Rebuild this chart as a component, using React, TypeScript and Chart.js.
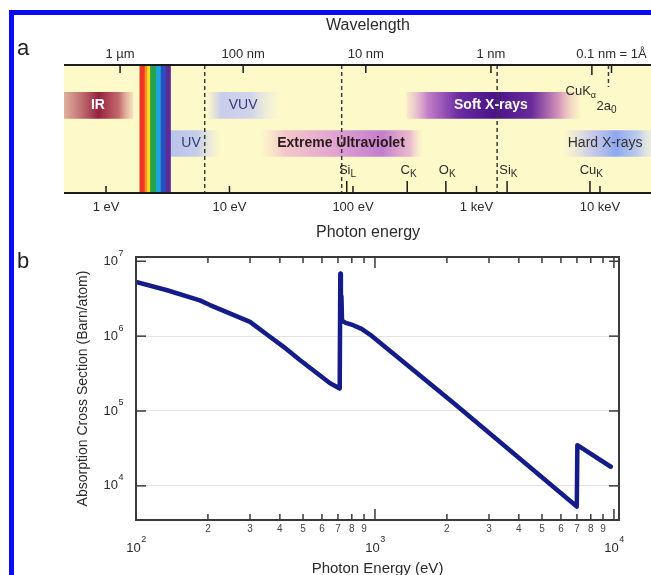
import React, { useEffect, useRef } from 'react';
import { Chart, registerables } from 'chart.js';

Chart.register(...registerables);

const FONT = '"Liberation Sans", Arial, Helvetica, sans-serif';
Chart.defaults.font.family = FONT;

// ================= Panel a : spectrum overview (positions in photon energy, eV) =================
const energyTickValues = [1, 10, 100, 1000, 10000];
const energyTickLabels = ['1 eV', '10 eV', '100 eV', '1 keV', '10 keV'];
const wavelengthTickEnergies = [1.3, 12.9, 127, 1310, 12400];
const wavelengthTickLabels = ['1 µm', '100 nm', '10 nm', '1 nm', '0.1 nm = 1Å'];

const bandNames = ['IR', 'VUV', 'Soft X-rays', 'UV', 'Extreme Ultraviolet', 'Hard X-rays'];
const bandStartEV = [0.457, 6.57, 274, 3.3, 17.7, 5010];
const bandEndEV = [1.65, 25.6, 6890, 8.38, 369, 25900];
const bandRow = [0.316, 0.316, 0.316, 0.613, 0.613, 0.613];
const bandLabelEV = [0.86, 12.9, 1310, 4.88, 80, 11000];

const spectrumEdgesEV = [1.88, 2.07, 2.17, 2.29, 2.56, 2.79, 3.06, 3.33];
const regionBoundaryEV = [6.3, 81, 1470];
const edgeMain = ['Si', 'C', 'O', 'Si', 'Cu'];
const edgeSub = ['L', 'K', 'K', 'K', 'K'];
const edgeEV = [89, 275, 565, 1770, 8300];
const cuKalphaEV = 8600;
const twoA0EV = 11720;

// ================= Panel b : absorption cross section =================
const photonEnergyEV = [100, 135, 185, 204, 300, 353, 412, 485, 649, 712, 716, 720, 724, 728, 750, 811, 879, 953, 2120, 6990, 7030, 9700];
const crossSectionBarn = [5.3e6, 4.1e6, 3.0e6, 2.6e6, 1.55e6, 1.05e6, 7.3e5, 4.8e5, 2.35e5, 2.0e5, 6.8e6, 2.6e6, 3.4e6, 1.6e6, 1.52e6, 1.4e6, 1.25e6, 1.05e6, 1.3e5, 5.3e3, 3.5e4, 1.8e4];
const xTickValues = [100, 200, 300, 400, 500, 600, 700, 800, 900, 1000, 2000, 3000, 4000, 5000, 6000, 7000, 8000, 9000, 10000];
const yTickValues = [1e4, 1e5, 1e6, 1e7];
const xRange = [100, 10500];
const yRange = [3500, 1.14e7];

// ---------- styles ----------
const spectrumColors = ['#ee3524', '#f7901e', '#f6dd1c', '#2aa24a', '#1aa7e0', '#2c4fbf', '#5b2b96'];
const bandGradients: [number, string][][] = [
  [[0, 'rgba(214,150,140,0.75)'], [0.5, 'rgba(150,32,62,1)'], [0.8, 'rgba(190,90,100,0.9)'], [1, 'rgba(230,175,160,0.35)']],
  [[0, 'rgba(196,200,238,0)'], [0.2, 'rgba(196,200,238,0.9)'], [0.6, 'rgba(200,205,240,0.85)'], [1, 'rgba(225,225,240,0)']],
  [[0, 'rgba(235,185,210,0.3)'], [0.12, 'rgba(195,125,200,1)'], [0.3, '#6b2ba2'], [0.5, '#4a1489'], [0.72, '#6a2a9a'], [0.88, 'rgba(215,150,185,1)'], [1, 'rgba(245,215,195,0.2)']],
  [[0, 'rgba(182,192,236,0.95)'], [0.55, 'rgba(188,198,238,0.85)'], [1, 'rgba(215,215,240,0)']],
  [[0, 'rgba(245,205,205,0)'], [0.15, 'rgba(240,190,200,0.85)'], [0.45, 'rgba(225,165,210,1)'], [0.75, 'rgba(195,125,205,1)'], [0.92, 'rgba(228,170,205,0.8)'], [1, 'rgba(245,210,215,0)']],
  [[0, 'rgba(215,210,235,0)'], [0.3, 'rgba(195,195,238,0.8)'], [0.6, 'rgba(140,168,240,1)'], [0.85, 'rgba(180,195,240,0.85)'], [1, 'rgba(215,222,245,0.4)']],
];
const bandTextStyle = [
  { bold: true, color: '#ffffff' },
  { bold: false, color: '#343a7c' },
  { bold: true, color: '#ffffff' },
  { bold: false, color: '#343a7c' },
  { bold: true, color: '#2a1a1a' },
  { bold: false, color: '#333333' },
];
const TEXT = '#2b2b2b';

function line(ctx: CanvasRenderingContext2D, x1: number, y1: number, x2: number, y2: number) {
  ctx.beginPath();
  ctx.moveTo(x1, y1);
  ctx.lineTo(x2, y2);
  ctx.stroke();
}

const isDecade = (v: number) => Math.abs(Math.log10(v) - Math.round(Math.log10(v))) < 1e-9;

const panelAPlugin = {
  id: 'panelA',
  beforeDatasetsDraw(chart: any) {
    const { ctx, chartArea: a } = chart;
    ctx.save();
    ctx.fillStyle = '#fdf9c9';
    ctx.fillRect(a.left, a.top, a.right - a.left, a.bottom - a.top);
    ctx.restore();
  },
  afterDatasetsDraw(chart: any) {
    const { ctx, chartArea: a } = chart;
    const xs = chart.scales.x;
    const ys = chart.scales.y;
    const px = (v: number) => xs.getPixelForValue(v);
    ctx.save();
    ctx.strokeStyle = '#3c3c3c';
    ctx.lineWidth = 1.5;
    ctx.setLineDash([4, 3]);
    regionBoundaryEV.forEach((v) => line(ctx, px(v), a.top, px(v), a.bottom));
    line(ctx, px(twoA0EV), a.top, px(twoA0EV), a.top + 22);
    ctx.setLineDash([]);
    ctx.strokeStyle = '#1c1c1c';
    ctx.lineWidth = 2;
    line(ctx, a.left, a.top, a.right, a.top);
    line(ctx, a.left, a.bottom, a.right, a.bottom);
    ctx.lineWidth = 1.5;
    wavelengthTickEnergies.forEach((v) => line(ctx, px(v), a.top, px(v), a.top + 8));
    line(ctx, px(cuKalphaEV), a.top, px(cuKalphaEV), a.top + 10);
    energyTickValues.forEach((v) => line(ctx, px(v), a.bottom, px(v), a.bottom - 7));
    edgeEV.forEach((v) => line(ctx, px(v), a.bottom, px(v), a.bottom - 12));

    ctx.textBaseline = 'middle';
    ctx.textAlign = 'center';
    bandNames.forEach((name, i) => {
      const st = bandTextStyle[i];
      ctx.font = `${st.bold ? 'bold ' : ''}14px ${FONT}`;
      ctx.fillStyle = st.color;
      ctx.fillText(name, px(bandLabelEV[i]), ys.getPixelForValue(bandRow[i]));
    });

    ctx.textBaseline = 'alphabetic';
    ctx.textAlign = 'left';
    ctx.fillStyle = TEXT;
    edgeEV.forEach((v, i) => {
      ctx.font = `13px ${FONT}`;
      const w = ctx.measureText(edgeMain[i]).width;
      const x0 = px(v) - w / 2 - 2;
      ctx.fillText(edgeMain[i], x0, a.bottom - 19);
      ctx.font = `10px ${FONT}`;
      ctx.fillText(edgeSub[i], x0 + w, a.bottom - 16);
    });
    ctx.font = `13px ${FONT}`;
    const ck = 'CuK';
    const ckw = ctx.measureText(ck).width;
    const ckx = px(cuKalphaEV) - ckw - 1;
    ctx.fillText(ck, ckx, a.top + 30);
    ctx.font = `9px ${FONT}`;
    ctx.fillText('α', ckx + ckw, a.top + 33);
    ctx.font = `13px ${FONT}`;
    const ta = '2a';
    const taw = ctx.measureText(ta).width;
    const tax = px(twoA0EV) - 12;
    ctx.fillText(ta, tax, a.top + 45);
    ctx.font = `10px ${FONT}`;
    ctx.fillText('0', tax + taw, a.top + 48);

    ctx.font = `13px ${FONT}`;
    ctx.textAlign = 'center';
    wavelengthTickEnergies.forEach((v, i) => ctx.fillText(wavelengthTickLabels[i], px(v), a.top - 7));
    energyTickValues.forEach((v, i) => ctx.fillText(energyTickLabels[i], px(v), a.bottom + 18));

    ctx.font = `16px ${FONT}`;
    ctx.fillText('Wavelength', 368, 30);
    ctx.fillText('Photon energy', 368, 237);
    ctx.textAlign = 'left';
    ctx.font = `22px ${FONT}`;
    ctx.fillStyle = '#222';
    ctx.fillText('a', 17, 55);
    ctx.restore();
  },
};

const panelBPlugin = {
  id: 'panelB',
  afterDatasetsDraw(chart: any) {
    const { ctx, chartArea: a } = chart;
    const xs = chart.scales.x;
    const ys = chart.scales.y;
    ctx.save();
    ctx.strokeStyle = '#3a3a3a';
    ctx.lineWidth = 2;
    ctx.strokeRect(a.left, a.top, a.right - a.left, a.bottom - a.top);
    ctx.lineWidth = 1.5;
    xTickValues.forEach((v) => {
      const p = xs.getPixelForValue(v);
      const len = isDecade(v) ? 11 : 6;
      line(ctx, p, a.bottom, p, a.bottom - len);
      line(ctx, p, a.top, p, a.top + len);
    });
    yTickValues.forEach((v) => {
      const p = ys.getPixelForValue(v);
      line(ctx, a.left, p, a.left + 10, p);
      line(ctx, a.right, p, a.right - 10, p);
    });
    ctx.fillStyle = TEXT;
    ctx.textBaseline = 'middle';
    yTickValues.forEach((v) => {
      const p = ys.getPixelForValue(v);
      const e = String(Math.round(Math.log10(v)));
      ctx.font = `13px ${FONT}`;
      ctx.textAlign = 'right';
      ctx.fillText('10', a.left - 18, p);
      ctx.font = `9px ${FONT}`;
      ctx.textAlign = 'left';
      ctx.fillText(e, a.left - 17.5, p - 8);
    });
    xTickValues.filter(isDecade).forEach((v) => {
      const p = xs.getPixelForValue(v);
      const e = String(Math.round(Math.log10(v)));
      ctx.font = `13px ${FONT}`;
      const w1 = ctx.measureText('10').width;
      ctx.font = `9px ${FONT}`;
      const w2 = ctx.measureText(e).width;
      const x0 = p - (w1 + w2) / 2;
      ctx.textAlign = 'left';
      ctx.font = `13px ${FONT}`;
      ctx.fillText('10', x0, a.bottom + 28);
      ctx.font = `9px ${FONT}`;
      ctx.fillText(e, x0 + w1 + 0.5, a.bottom + 20);
    });
    ctx.textBaseline = 'alphabetic';
    ctx.font = `22px ${FONT}`;
    ctx.fillStyle = '#222';
    ctx.fillText('b', 17, 28);
    ctx.restore();
  },
};

export default function App() {
  const aRef = useRef<HTMLCanvasElement>(null);
  const bRef = useRef<HTMLCanvasElement>(null);

  useEffect(() => {
    const bandData = bandNames.map((_, i) => ({ x: [bandStartEV[i], bandEndEV[i]], y: bandRow[i] }));
    const spectrumData = spectrumColors.map((_, i) => ({ x: [spectrumEdgesEV[i], spectrumEdgesEV[i + 1]], y: 0.5 }));

    const chartA = new Chart(aRef.current as HTMLCanvasElement, {
      type: 'bar',
      data: {
        datasets: [
          {
            data: spectrumData as any,
            backgroundColor: spectrumColors,
            barThickness: 128,
            borderWidth: 0,
            borderSkipped: false,
            grouped: false,
          } as any,
          {
            data: bandData as any,
            backgroundColor: (c: any) => {
              const chart = c.chart;
              const xs = chart.scales && chart.scales.x;
              const i = c.dataIndex;
              if (!xs || i == null) return 'rgba(0,0,0,0)';
              const x0 = xs.getPixelForValue(bandStartEV[i]);
              const x1 = xs.getPixelForValue(bandEndEV[i]);
              if (!isFinite(x0) || !isFinite(x1) || x1 <= x0) return 'rgba(0,0,0,0)';
              const g = chart.ctx.createLinearGradient(x0, 0, x1, 0);
              bandGradients[i].forEach(([o, col]) => g.addColorStop(o, col));
              return g;
            },
            barThickness: 26,
            borderWidth: 0,
            borderSkipped: false,
            grouped: false,
          } as any,
        ],
      },
      options: {
        indexAxis: 'y',
        responsive: false,
        animation: false,
        devicePixelRatio: 1,
        events: [],
        layout: { padding: { left: 64, top: 65, right: 0, bottom: 47 } },
        plugins: { legend: { display: false }, tooltip: { enabled: false } },
        scales: {
          x: { type: 'logarithmic', min: 0.457, max: 25900, display: false },
          y: { type: 'linear', min: 0, max: 1, reverse: true, offset: false, display: false },
        },
      } as any,
      plugins: [panelAPlugin],
    });

    const chartB = new Chart(bRef.current as HTMLCanvasElement, {
      type: 'line',
      data: {
        datasets: [
          {
            data: photonEnergyEV.map((e, i) => ({ x: e, y: crossSectionBarn[i] })),
            borderColor: '#131c88',
            borderWidth: 4.5,
            borderJoinStyle: 'round',
            borderCapStyle: 'round',
            pointRadius: 0,
            tension: 0,
            fill: false,
          } as any,
        ],
      },
      options: {
        responsive: false,
        animation: false,
        devicePixelRatio: 1,
        events: [],
        layout: { padding: { left: 0, top: 17, right: 32, bottom: 0 } },
        plugins: { legend: { display: false }, tooltip: { enabled: false } },
        scales: {
          x: {
            type: 'logarithmic',
            min: xRange[0],
            max: xRange[1],
            grid: { display: false, drawTicks: false },
            border: { display: false },
            afterBuildTicks: (s: any) => {
              s.ticks = xTickValues.map((v) => ({ value: v }));
            },
            afterFit: (s: any) => {
              s.height = 55;
            },
            ticks: {
              autoSkip: false,
              maxRotation: 0,
              minRotation: 0,
              padding: 3,
              color: '#444',
              font: { size: 10 },
              callback: (v: any) => {
                const n = Number(v);
                if (isDecade(n)) return '';
                return String(Math.round(n / Math.pow(10, Math.floor(Math.log10(n) + 1e-9))));
              },
            },
            title: {
              display: true,
              text: 'Photon Energy (eV)',
              color: TEXT,
              font: { size: 15 },
              padding: { top: 0, bottom: -3 },
            },
          },
          y: {
            type: 'logarithmic',
            min: yRange[0],
            max: yRange[1],
            border: { display: false },
            grid: {
              drawTicks: false,
              lineWidth: 1,
              color: (c: any) => (c.tick && c.tick.value >= 1e7 ? 'rgba(0,0,0,0)' : '#e3e3e3'),
            },
            afterBuildTicks: (s: any) => {
              s.ticks = yTickValues.map((v) => ({ value: v }));
            },
            afterFit: (s: any) => {
              s.width = 136;
            },
            ticks: { display: false },
            title: {
              display: true,
              text: 'Absorption Cross Section (Barn/atom)',
              color: TEXT,
              font: { size: 14 },
              padding: { top: 75, bottom: 0 },
            },
          },
        },
      } as any,
      plugins: [panelBPlugin],
    });

    return () => {
      chartA.destroy();
      chartB.destroy();
    };
  }, []);

  return (
    <div
      style={{
        position: 'absolute',
        left: 0,
        top: 0,
        width: 651,
        height: 575,
        overflow: 'hidden',
        background: '#ffffff',
        fontFamily: FONT,
      }}
    >
      <canvas ref={aRef} width={651} height={240} style={{ position: 'absolute', left: 0, top: 0 }} />
      <canvas ref={bRef} width={651} height={335} style={{ position: 'absolute', left: 0, top: 240 }} />
      <div style={{ position: 'absolute', left: 9, top: 10, width: 5, height: 565, background: '#0b0bf2' }} />
      <div style={{ position: 'absolute', left: 9, top: 10, width: 642, height: 5, background: '#0b0bf2' }} />
    </div>
  );
}
